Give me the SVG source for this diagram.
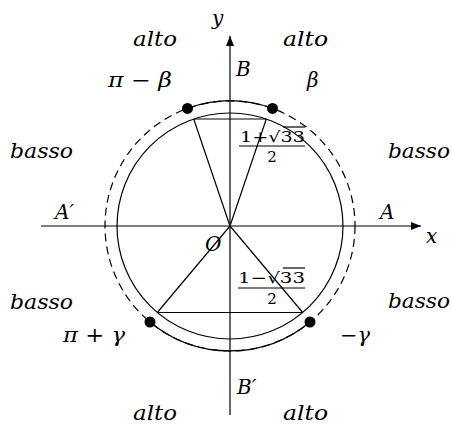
<svg xmlns="http://www.w3.org/2000/svg" width="452" height="426" viewBox="0 0 452 426">
<defs>
<marker id="arr" viewBox="0 0 10 8" refX="10" refY="4" markerWidth="10" markerHeight="8" markerUnits="userSpaceOnUse" orient="auto">
<path d="M0,0 L10,4 L0,8 Z" fill="#000"/>
</marker>
<style>
.ln{stroke:#000;stroke-width:1.2;fill:none}
.t{font-family:"DejaVu Serif","Liberation Serif",serif;font-style:italic;font-size:20px;fill:#000}
.r{font-family:"DejaVu Serif","Liberation Serif",serif;font-size:15px;fill:#000}
.dot{fill:#000}
</style>
</defs>
<rect width="452" height="426" fill="#fff"/>
<g id="circles">
<circle class="ln" cx="230" cy="226" r="113"/>
<circle class="ln" cx="230" cy="226" r="125" stroke-dasharray="8 5"/>
</g>
<g id="connectors">
<line class="ln" x1="41" y1="226" x2="421" y2="226" marker-end="url(#arr)"/>
<line class="ln" x1="230" y1="415" x2="230" y2="36" marker-end="url(#arr)"/>
<path class="ln" d="M187.5 108.4 A125 125 0 0 1 272.5 108.4"/>
<path class="ln" d="M150 322 A125 125 0 0 0 310 322"/>
<line class="ln" x1="193.7" y1="119" x2="266.3" y2="119"/>
<line class="ln" x1="230" y1="226" x2="193.7" y2="119"/>
<line class="ln" x1="230" y1="226" x2="266.3" y2="119"/>
<line class="ln" x1="157.3" y1="312.5" x2="302.7" y2="312.5"/>
<line class="ln" x1="230" y1="226" x2="157.3" y2="312.5"/>
<line class="ln" x1="230" y1="226" x2="302.7" y2="312.5"/>
</g>
<g id="points">
<circle class="dot" cx="187.5" cy="108.4" r="5.5"/>
<circle class="dot" cx="272.5" cy="108.4" r="5.5"/>
<circle class="dot" cx="150" cy="322" r="5.5"/>
<circle class="dot" cx="310" cy="322" r="5.5"/>
</g>
<g id="labels">
<text class="t" x="133" y="46" textLength="44" lengthAdjust="spacingAndGlyphs">alto</text>
<text class="t" x="283" y="46" textLength="45" lengthAdjust="spacingAndGlyphs">alto</text>
<text class="t" x="212" y="25">y</text>
<text class="t" x="236" y="76">B</text>
<text class="t" x="108" y="87" textLength="64" lengthAdjust="spacingAndGlyphs">π − β</text>
<text class="t" x="307" y="87">β</text>
<text class="t" x="10" y="158" textLength="63" lengthAdjust="spacingAndGlyphs">basso</text>
<text class="t" x="388" y="158" textLength="62" lengthAdjust="spacingAndGlyphs">basso</text>
<text class="t" x="55" y="219">A′</text>
<text class="t" x="380" y="219">A</text>
<text class="t" x="426" y="243">x</text>
<text class="t" x="205" y="251">O</text>
<text class="r" x="240" y="142" textLength="65" lengthAdjust="spacingAndGlyphs">1+√33</text>
<line class="ln" x1="283" y1="127" x2="305" y2="127" stroke-width="0.8"/>
<line class="ln" x1="239" y1="146" x2="305" y2="146" stroke-width="0.8"/>
<text class="r" x="272" y="162" text-anchor="middle">2</text>
<text class="r" x="238" y="283" textLength="67" lengthAdjust="spacingAndGlyphs">1−√33</text>
<line class="ln" x1="283" y1="268" x2="305" y2="268" stroke-width="0.8"/>
<line class="ln" x1="238" y1="288" x2="305" y2="288" stroke-width="0.8"/>
<text class="r" x="272" y="304" text-anchor="middle">2</text>
<text class="t" x="10" y="309" textLength="63" lengthAdjust="spacingAndGlyphs">basso</text>
<text class="t" x="388" y="308" textLength="62" lengthAdjust="spacingAndGlyphs">basso</text>
<text class="t" x="63" y="342" textLength="62" lengthAdjust="spacingAndGlyphs">π + γ</text>
<text class="t" x="340" y="342" textLength="30" lengthAdjust="spacingAndGlyphs">−γ</text>
<text class="t" x="237" y="394">B′</text>
<text class="t" x="133" y="420" textLength="44" lengthAdjust="spacingAndGlyphs">alto</text>
<text class="t" x="283" y="420" textLength="45" lengthAdjust="spacingAndGlyphs">alto</text>
</g>
</svg>
